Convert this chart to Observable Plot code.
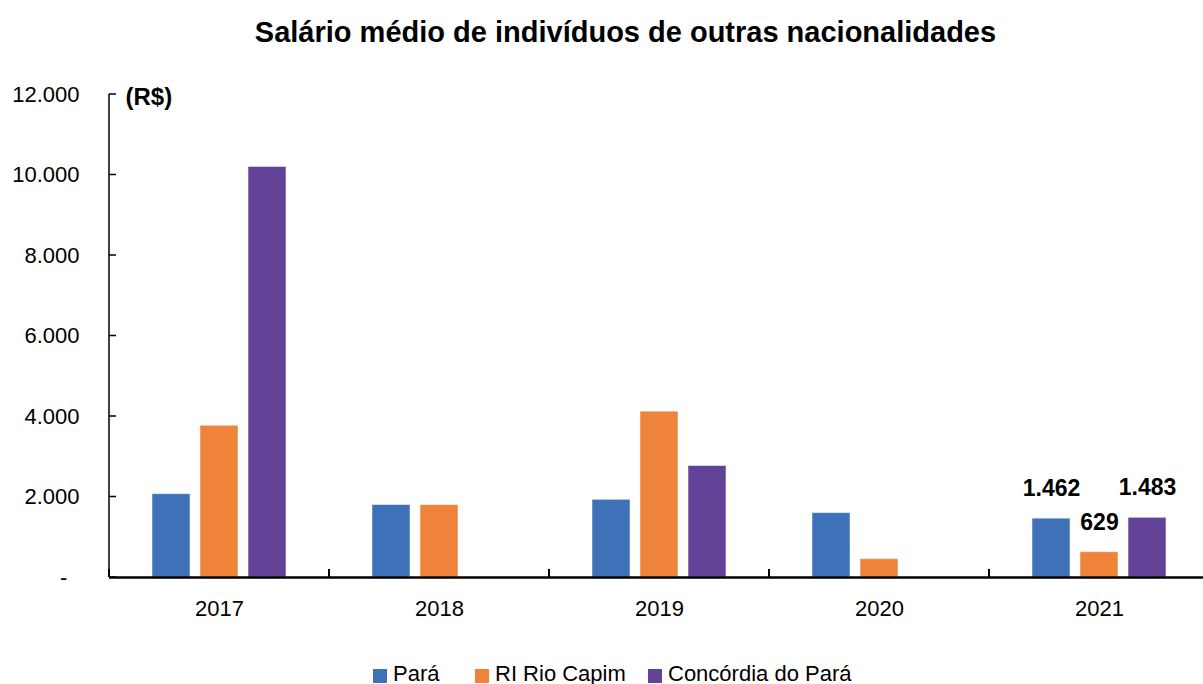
<!DOCTYPE html>
<html>
<head>
<meta charset="utf-8">
<script src="https://cdn.jsdelivr.net/npm/d3@7"></script>
<script src="https://cdn.jsdelivr.net/npm/@observablehq/plot@0.6"></script>
<style>
  html, body { margin: 0; padding: 0; background: #fff; overflow: hidden; width: 1203px; height: 684px; }
  body { font-family: "Liberation Sans", Arial, sans-serif; color: #000; }
  #title { height: 60px; line-height: 64px; text-align: center; padding-left: 48px; font-weight: bold; font-size: 29px; white-space: nowrap; }
  #chart { width: 1203px; overflow: hidden; }
  #chart svg { display: block; max-width: none !important; }
  #legend { position: relative; height: 47px; }
  .item { position: absolute; top: 22px; display: flex; align-items: center; font-size: 22px; line-height: 30px; white-space: nowrap; }
  .sw { width: 14px; height: 14px; margin-right: 6px; margin-top: 4px; }
</style>
</head>
<body>
<div id="title">Salário médio de indivíduos de outras nacionalidades</div>
<div id="chart"></div>
<div id="legend"></div>
<script>
// ---- data ----
const years = ["2017", "2018", "2019", "2020", "2021"];
const seriesNames = ["Pará", "RI Rio Capim", "Concórdia do Pará"];
const paraValues = [2070, 1800, 1930, 1600, 1462];
const rioCapimValues = [3770, 1800, 4120, 455, 629];
const concordiaValues = [10200, null, 2770, null, 1483];
const seriesColors = ["#3F71B8", "#F0833A", "#634397"];
const yTicks = [0, 2000, 4000, 6000, 8000, 10000, 12000];
const labelledYear = "2021";
const unitLabel = "(R$)";

const seriesValues = [paraValues, rioCapimValues, concordiaValues];
const rows = [];
years.forEach((yr, i) => {
  seriesNames.forEach((s, j) => {
    const v = seriesValues[j][i];
    if (v != null) rows.push({year: yr, series: s, value: v});
  });
});

const fmt = v => v === 0 ? "-\u2007" : d3.format(",.0f")(v).replace(/,/g, ".");

// custom mark: y axis line + inside ticks, and category-boundary ticks on the baseline
const frameTicks = Plot.frame({
  facet: "super",
  render(index, scales, values, dimensions) {
    const {marginLeft, marginRight, width} = dimensions;
    const y = scales.y;
    const g = d3.create("svg:g").attr("stroke", "#000").attr("fill", "none");
    const y0 = y(0), yTop = y(yTicks[yTicks.length - 1]);
    g.append("line").attr("x1", marginLeft).attr("x2", marginLeft).attr("y1", yTop).attr("y2", y0).attr("stroke-width", 1.5);
    for (const t of yTicks) {
      g.append("line").attr("x1", marginLeft).attr("x2", marginLeft + 7).attr("y1", y(t)).attr("y2", y(t)).attr("stroke-width", 1.5);
    }
    let bounds;
    if (scales.fx) bounds = years.map(v => scales.fx(v));
    else bounds = years.map((v, i) => marginLeft + i * (width - marginLeft - marginRight) / years.length);
    for (const bx of bounds) {
      g.append("line").attr("x1", bx).attr("x2", bx).attr("y1", y0).attr("y2", y0 - 8).attr("stroke-width", 2);
    }
    return g.node();
  }
});

const chart = Plot.plot({
  width: 1209,
  height: 577,
  marginLeft: 109,
  marginRight: 0,
  marginTop: 34,
  marginBottom: 60,
  style: {fontFamily: '"Liberation Sans", Arial, sans-serif', color: "#000", background: "#fff", maxWidth: "none"},
  fx: {domain: years, padding: 0, label: null},
  x: {domain: seriesNames, paddingInner: 0.2, paddingOuter: 0.85, axis: null},
  y: {domain: [0, 12000], axis: null},
  color: {domain: seriesNames, range: seriesColors},
  marks: [
    Plot.barY(rows, {fx: "year", x: "series", y: "value", fill: "series", stroke: "#fff", strokeOpacity: 0.5, strokeWidth: 1}),
    Plot.ruleY([0], {stroke: "#000", strokeWidth: 2.5}),
    Plot.text(rows.filter(d => d.year === labelledYear), {
      fx: "year", x: "series", y: "value", text: d => fmt(d.value),
      dy: -30, fontWeight: "bold", fontSize: 23, fill: "#000", lineAnchor: "middle"
    }),
    Plot.text([unitLabel], {facet: "super", frameAnchor: "top-left", dx: 16, dy: 3, textAnchor: "start", lineAnchor: "middle", fontWeight: "bold", fontSize: 24, fill: "#000"}),
    Plot.axisY({ticks: yTicks, tickFormat: fmt, tickSize: 0, tickPadding: 30, fontSize: 22, label: null}),
    Plot.axisFx({anchor: "bottom", tickSize: 0, tickPadding: 23, fontSize: 22, label: null}),
    frameTicks
  ]
});
document.getElementById("chart").appendChild(chart);

// legend
const legend = document.getElementById("legend");
const legendX = [373, 475, 648];
seriesNames.forEach((s, i) => {
  const it = document.createElement("div");
  it.className = "item";
  it.style.left = legendX[i] + "px";
  const sw = document.createElement("div");
  sw.className = "sw";
  sw.style.background = seriesColors[i];
  const tx = document.createElement("span");
  tx.textContent = s;
  it.appendChild(sw); it.appendChild(tx);
  legend.appendChild(it);
});
</script>
</body>
</html>
